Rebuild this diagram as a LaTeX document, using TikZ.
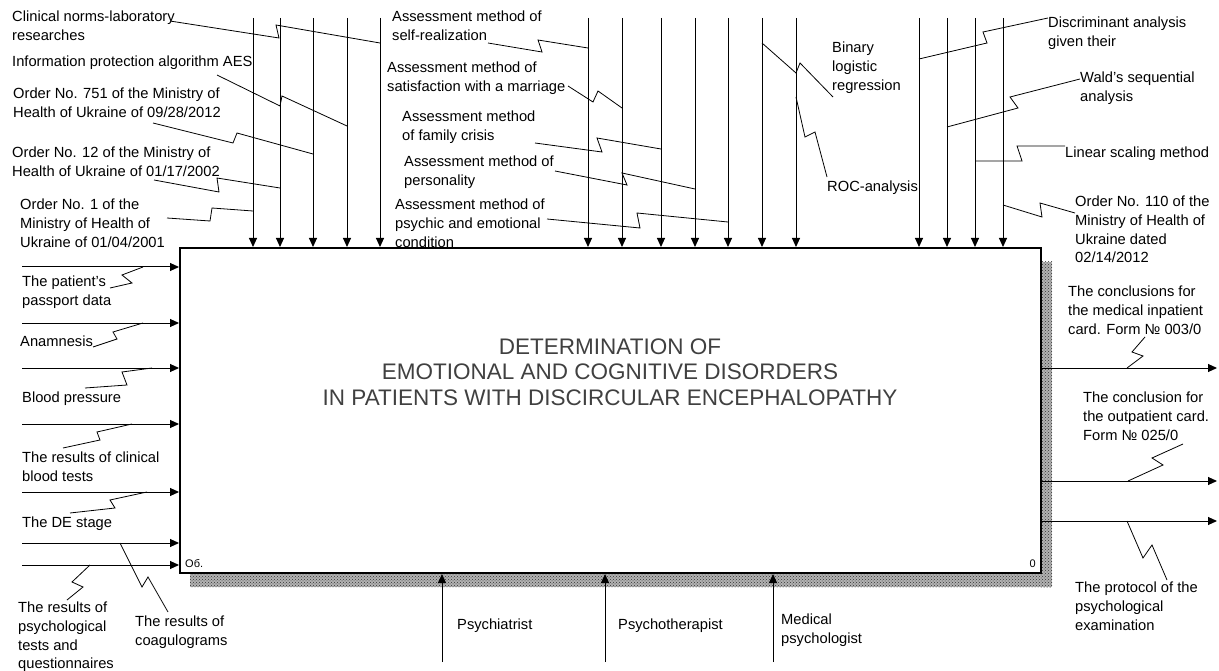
\documentclass[tikz,border=0pt]{standalone}
\usepackage{fontspec}
\setmainfont{Liberation Sans}
\usetikzlibrary{arrows.meta,calc,patterns}
\tikzset{
  flow/.style={line width=1pt,-{Triangle[length=9pt,width=8pt]}},
  squig/.style={line width=0.8pt},
  lbl/.style={font=\fontsize{14.7}{18.6}\selectfont,align=left,inner sep=0pt,anchor=north west},
  mainbox/.style={draw,line width=2pt,fill=white,minimum width=861pt,minimum height=325pt,inner sep=0pt},
  ttl/.style={font=\fontsize{22.5}{25.5}\selectfont,align=center,text=black!75,inner sep=0pt},
  shadow/.style={fill=black!30,postaction={pattern=crosshatch dots,pattern color=black!80}},
  boxno/.style={font=\fontsize{11}{13}\selectfont,inner sep=0pt},
}

\begin{document}
\begin{tikzpicture}[x=1pt,y=-1pt]
  \useasboundingbox (0,0) rectangle (1219,671);
  % shadow and main activity box
  \fill[shadow] (1041,262) rectangle (1052,587);
  \fill[shadow] (190,574) rectangle (1052,587);
  \node[mainbox] (box) at (610.5,410.5) {};
  \node[ttl] (title) at (610,372) {DETERMINATION OF\\EMOTIONAL AND COGNITIVE DISORDERS\\IN PATIENTS WITH DISCIRCULAR ENCEPHALOPATHY};
  \node[boxno,anchor=base west] (nodeno) at (185,567) {Об.};
  \node[boxno,anchor=base east] (boxid) at (1036,567) {0};

  % arrows into and out of the box
  \foreach \x [count=\i] in {253,280,313,347,380,588,622,661,695,728,762,796,919,947,975,1003}{
    \coordinate (t\i) at (\x,18);
    \draw[flow] (t\i) -- (t\i |- box.north);
  }
  \foreach \y [count=\i] in {267,323,368,424,492,543,565}{
    \coordinate (in\i) at (22,\y);
    \draw[flow] (in\i) -- (in\i -| box.west);
  }
  \foreach \y [count=\i] in {368,481,521}{
    \coordinate (out\i) at (1217,\y);
    \draw[flow] (out\i -| box.east) -- (out\i);
  }
  \foreach \x [count=\i] in {442,605,773}{
    \coordinate (m\i) at (\x,662);
    \draw[flow] (m\i) -- (m\i |- box.south);
  }

  % labels above
  \node[lbl] (clin) at (12,11) {Clinical norms-laboratory\\researches};
  \node[lbl] (aes) at (12,56) {Information protection algorithm AES};
  \node[lbl] (ord751) at (13,88) {Order No. 751 of the Ministry of\\Health of Ukraine of 09/28/2012};
  \node[lbl] (ord12) at (12,147) {Order No. 12 of the Ministry of\\Health of Ukraine of 01/17/2002};
  \node[lbl] (ord1) at (20,199) {Order No. 1 of the\\Ministry of Health of\\Ukraine of 01/04/2001};
  \node[lbl] (selfr) at (392,11) {Assessment method of\\self-realization};
  \node[lbl] (marr) at (387,62) {Assessment method of\\satisfaction with a marriage};
  \node[lbl] (fam) at (402,111) {Assessment method\\of family crisis};
  \node[lbl] (pers) at (404,156) {Assessment method of\\personality};
  \node[lbl] (emo) at (395,199) {Assessment method of\\psychic and emotional\\condition};
  \node[lbl] (blr) at (832,42) {Binary\\logistic\\regression};
  \node[lbl] (roc) at (827,181) {ROC-analysis};
  \node[lbl] (discr) at (1048,17) {Discriminant analysis\\given their};
  \node[lbl] (wald) at (1080,72) {Wald's sequential\\analysis};
  \node[lbl] (lin) at (1065,147) {Linear scaling method};
  \node[lbl] (ord110) at (1075,196) {Order No. 110 of the\\Ministry of Health of\\Ukraine dated\\02/14/2012};

  % labels left
  \node[lbl] (pass) at (22,276) {The patient's\\passport data};
  \node[lbl] (anam) at (20,336) {Anamnesis};
  \node[lbl] (bp) at (22,392) {Blood pressure};
  \node[lbl] (cbt) at (22,452) {The results of clinical\\blood tests};
  \node[lbl] (de) at (22,517) {The DE stage};
  \node[lbl] (psyt) at (18,602) {The results of\\psychological\\tests and\\questionnaires};
  \node[lbl] (coag) at (135,616) {The results of\\coagulograms};

  % labels right and below
  \node[lbl] (inpat) at (1068,286) {The conclusions for\\the medical inpatient\\card. Form № 003/0};
  \node[lbl] (outpat) at (1083,392) {The conclusion for\\the outpatient card.\\Form № 025/0};
  \node[lbl] (proto) at (1075,582) {The protocol of the\\psychological\\examination};
  \node[lbl] (psyc) at (457,619) {Psychiatrist};
  \node[lbl] (psyth) at (618,619) {Psychotherapist};
  \node[lbl] (medp) at (781,614) {Medical\\psychologist};

  % squiggles from labels to arrows
  \draw[squig] (170,21) -- (279,38) -- (276,25) -- (t5 |- 0,43);
  \draw[squig] (217,75) -- (280,106) -- (282,96) -- (t4 |- 0,126);
  \draw[squig] (153,123) -- (233,143) -- (237,133) -- (t3 |- 0,154);
  \draw[squig] (154,180) -- (219,192) -- (217,178) -- (t2 |- 0,188);
  \draw[squig] (167,218) -- (210,221) -- (212,208) -- (t1 |- 0,211);
  \draw[squig] (488,43) -- (542,52) -- (538,40) -- (t6 |- 0,48);
  \draw[squig] (568,86) -- (593,102) -- (598,91) -- (t7 |- 0,108);
  \draw[squig] (535,143) -- (602,152) -- (597,138) -- (t8 |- 0,149);
  \draw[squig] (555,171) -- (627,185) -- (622,173) -- (t9 |- 0,189);
  \draw[squig] (547,219) -- (640,228) -- (637,213) -- (t10 |- 0,222);
  \draw[squig] (833,97) -- (800,63) -- (796,73) -- (t11 |- 0,43);
  \draw[squig] (827,177) -- (815,132) -- (805,137) -- (t12 |- 0,97);
  \draw[squig] (1048,18) -- (983,32) -- (987,43) -- (t13 |- 0,59);
  \draw[squig] (1080,79) -- (1010,97) -- (1018,108) -- (t14 |- 0,127);
  \draw[squig] (1065,146) -- (1017,146) -- (1022,161) -- (t15 |- 0,161);
  \draw[squig] (1075,213) -- (1040,203) -- (1042,217) -- (t16 |- 0,205);
  \draw[squig] (110,288) -- (132,283) -- (122,275) -- (in1 -| 143,0);
  \draw[squig] (93,347) -- (117,339) -- (113,332) -- (in2 -| 143,0);
  \draw[squig] (85,388) -- (127,385) -- (122,372) -- (in3 -| 152,0);
  \draw[squig] (63,448) -- (100,440) -- (97,432) -- (in4 -| 132,0);
  \draw[squig] (70,513) -- (115,508) -- (110,500) -- (in5 -| 147,0);
  \draw[squig] (168,612) -- (148,577) -- (142,587) -- (in6 -| 120,0);
  \draw[squig] (67,600) -- (83,587) -- (72,582) -- (in7 -| 90,0);
  \draw[squig] (1145,337) -- (1132,352) -- (1143,356) -- (out1 -| 1127,0);
  \draw[squig] (1183,444) -- (1152,458) -- (1163,465) -- (out2 -| 1128,0);
  \draw[squig] (1167,580) -- (1152,545) -- (1143,558) -- (out3 -| 1127,0);
\end{tikzpicture}
\end{document}
